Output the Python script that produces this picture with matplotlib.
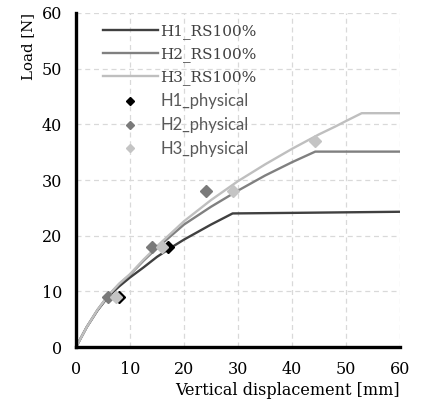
import matplotlib
matplotlib.use("Agg")
import matplotlib.pyplot as plt
from matplotlib.lines import Line2D

# Simulated load-displacement curves (RS100%)
h1_x = [0, 2, 4, 6, 8, 10, 12.5, 15, 17.5, 20, 25, 29, 40, 50, 60]
h1_y = [0, 3.6, 6.6, 9.1, 10.9, 12.5, 14.3, 16.2, 17.8, 19.3, 22.0, 24.0, 24.1, 24.2, 24.3]

h2_x = [0, 2, 4, 6, 8, 10, 12.5, 15, 20, 25, 30, 35, 40, 44.3, 50, 60]
h2_y = [0, 3.6, 6.7, 9.3, 11.3, 13.0, 15.5, 17.8, 22.0, 25.2, 28.1, 30.8, 33.2, 35.1, 35.1, 35.1]

h3_x = [0, 2, 4, 6, 8, 10, 12.5, 15, 20, 25, 30, 35, 40, 45, 48, 50, 52.9, 60]
h3_y = [0, 3.6, 6.7, 9.3, 11.4, 13.1, 15.7, 18.1, 22.6, 26.4, 29.8, 32.8, 35.6, 38.2, 39.6, 40.6, 42.0, 42.0]

# Physical test results
p1_x = [8, 17]
p1_y = [9, 18]
p2_x = [6, 14, 24]
p2_y = [9, 18, 28]
p3_x = [7.5, 16, 29, 44.3]
p3_y = [9, 18, 28, 37]

x_ticks = [0, 10, 20, 30, 40, 50, 60]
y_ticks = [0, 10, 20, 30, 40, 50, 60]

c1_line, c2_line, c3_line = "#404040", "#808080", "#bfbfbf"
c1_pt, c2_pt, c3_pt = "#000000", "#7a7a7a", "#c4c4c4"

fig = plt.figure(figsize=(4.22, 4.05), dpi=100)
ax = fig.add_axes([0.180, 0.143, 0.768, 0.825])

serif = "DejaVu Serif"
sans = "Lato"

ax.plot(h1_x, h1_y, color=c1_line, lw=1.7, zorder=3, solid_capstyle="butt")
ax.plot(h2_x, h2_y, color=c2_line, lw=1.7, zorder=3, solid_capstyle="butt")
ax.plot(h3_x, h3_y, color=c3_line, lw=1.7, zorder=3, solid_capstyle="butt")

ms = 5.8
ax.plot(p1_x, p1_y, ls="none", marker="D", ms=ms, color=c1_pt, mec=c1_pt, zorder=4)
ax.plot(p2_x, p2_y, ls="none", marker="D", ms=ms, color=c2_pt, mec=c2_pt, zorder=5)
ax.plot(p3_x, p3_y, ls="none", marker="D", ms=ms, color=c3_pt, mec=c3_pt, zorder=6)

ax.set_xlim(0, 60)
ax.set_ylim(0, 60)
ax.set_xticks(x_ticks)
ax.set_yticks(y_ticks)
ax.set_xticklabels([str(t) for t in x_ticks], fontfamily=serif, fontsize=11.5)
ax.set_yticklabels([str(t) for t in y_ticks], fontfamily=serif, fontsize=11.5)
ax.tick_params(length=0, pad=10)

ax.grid(True, color="#d9d9d9", ls=(0, (4, 3)), lw=0.9, zorder=0)
ax.set_axisbelow(True)
for side in ("top", "right"):
    ax.spines[side].set_visible(False)
for side in ("left", "bottom"):
    ax.spines[side].set_linewidth(2.4)
    ax.spines[side].set_color("black")
    ax.spines[side].set_zorder(7)

ax.set_xlabel("Vertical displacement [mm]", fontfamily=serif, fontsize=11.5, loc="right", labelpad=3)
ax.set_ylabel("Load [N]", fontfamily=serif, fontsize=10.8, loc="top", labelpad=5)

handles = [
    Line2D([], [], color=c1_line, lw=1.7),
    Line2D([], [], color=c2_line, lw=1.7),
    Line2D([], [], color=c3_line, lw=1.7),
    Line2D([], [], ls="none", marker="D", ms=4.2, color=c1_pt),
    Line2D([], [], ls="none", marker="D", ms=4.2, color=c2_pt),
    Line2D([], [], ls="none", marker="D", ms=4.2, color=c3_pt),
]
labels = ["H1_RS100%", "H2_RS100%", "H3_RS100%", "H1_physical", "H2_physical", "H3_physical"]
leg = ax.legend(handles, labels, loc="upper left", bbox_to_anchor=(0.055, 0.993), frameon=False,
                handlelength=3.6, handletextpad=0.15, labelspacing=0.52, borderaxespad=0.2,
                fontsize=11)
for i, t in enumerate(leg.get_texts()):
    if i < 3:
        t.set_fontfamily(serif)
        t.set_color("#404040")
    else:
        t.set_fontfamily(sans)
        t.set_fontsize(12)
        t.set_color("#595959")

fig.savefig("out.png", dpi=100)
